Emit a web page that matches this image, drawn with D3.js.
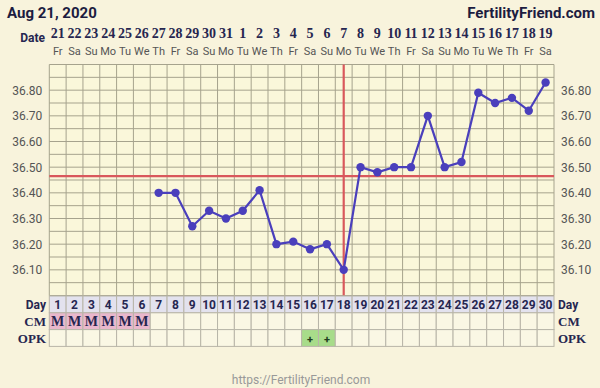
<!DOCTYPE html>
<html>
<head>
<meta charset="utf-8">
<script src="https://cdn.jsdelivr.net/npm/d3@7"></script>
<style>
  body { margin: 0; background: #f8f3dc; }
  svg { display: block; }
</style>
</head>
<body>
<div id="chart"></div>
<script>
// chart data
const cycleDays = d3.range(1, 31);
const dates = ["21","22","23","24","25","26","27","28","29","30","31","1","2","3","4",
  "5","6","7","8","9","10","11","12","13","14","15","16","17","18","19"];
const weekdays = ["Fr","Sa","Su","Mo","Tu","We","Th","Fr","Sa","Su","Mo","Tu","We","Th","Fr",
  "Sa","Su","Mo","Tu","We","Th","Fr","Sa","Su","Mo","Tu","We","Th","Fr","Sa"];
const temps = [null,null,null,null,null,null,36.40,36.40,36.27,36.33,36.30,36.33,36.41,36.20,36.21,
  36.18,36.20,36.10,36.50,36.48,36.50,36.50,36.70,36.50,36.52,36.79,36.75,36.77,36.72,36.83];
const cmValues = ["M","M","M","M","M","M","","","","","","","","","",
  "","","","","","","","","","","","","","",""];
const opkValues = ["","","","","","","","","","","","","","","",
  "+","+","","","","","","","","","","","","",""];
const tempTicks = [36.10, 36.20, 36.30, 36.40, 36.50, 36.60, 36.70, 36.80];
const coverline = 36.465;
const ovulationDay = 18;

const width = 600, height = 388;
const plot = { left: 49.3, right: 554, top: 64.5, bottom: 295.5 };

const svg = d3.select("#chart").append("svg")
    .attr("width", width)
    .attr("height", height);

svg.append("rect").attr("width", width).attr("height", height).attr("fill", "#f8f3dc");

// scales
const xScale = d3.scaleBand().domain(cycleDays).range([plot.left, plot.right]);
const yScale = d3.scaleLinear().domain([36.0, 36.9]).range([plot.bottom, plot.top]);
const cx = d => xScale(d) + xScale.bandwidth() / 2;

const sans = "Roboto, 'Noto Sans', sans-serif";
const serif = "'Liberation Serif', 'DejaVu Serif', serif";
const navy = "#262650";

// header
svg.append("text").attr("x", 7).attr("y", 18)
    .style("font", "bold 15px " + sans).attr("fill", "#1c1c40")
    .text("Aug 21, 2020");
svg.append("text").attr("x", 595).attr("y", 18).attr("text-anchor", "end")
    .style("font", "bold 15px " + sans).attr("fill", "#1c1c40")
    .text("FertilityFriend.com");

svg.append("text").attr("x", 45).attr("y", 42).attr("text-anchor", "end")
    .style("font", "bold 12px " + sans).attr("fill", navy).text("Date");

svg.selectAll(".date").data(cycleDays).enter().append("text")
    .attr("x", cx).attr("y", 38).attr("text-anchor", "middle")
    .style("font", "bold 14px " + serif).attr("fill", navy)
    .text((d, i) => dates[i]);

svg.selectAll(".wday").data(cycleDays).enter().append("text")
    .attr("x", cx).attr("y", 55).attr("text-anchor", "middle")
    .style("font", "11px " + sans).attr("fill", "#555")
    .text((d, i) => weekdays[i]);

// plot background + grid
svg.append("rect")
    .attr("x", plot.left).attr("y", plot.top)
    .attr("width", plot.right - plot.left).attr("height", plot.bottom - plot.top)
    .attr("fill", "#faf7da");

const gridColor = "#a6a38d";
const hLines = d3.range(0, 19).map(i => 36.0 + i * 0.05);
svg.append("g").selectAll("line").data(hLines).enter().append("line")
    .attr("x1", plot.left).attr("x2", plot.right)
    .attr("y1", d => yScale(d)).attr("y2", d => yScale(d))
    .attr("stroke", gridColor).attr("stroke-width", 1);

const tableTop = 296, rowH = 16.8;
const vBounds = cycleDays.map(d => xScale(d)).concat([plot.right]);
svg.append("g").selectAll("line").data(vBounds).enter().append("line")
    .attr("x1", d => d).attr("x2", d => d)
    .attr("y1", plot.top).attr("y2", plot.bottom)
    .attr("stroke", gridColor).attr("stroke-width", 1);

// y axis labels, both sides
const axisL = svg.append("g")
    .attr("transform", "translate(" + (plot.left - 4) + ",0)")
    .call(d3.axisLeft(yScale).tickValues(tempTicks).tickFormat(d3.format(".2f")).tickSize(0));
const axisR = svg.append("g")
    .attr("transform", "translate(" + (plot.right + 4) + ",0)")
    .call(d3.axisRight(yScale).tickValues(tempTicks).tickFormat(d3.format(".2f")).tickSize(0));
[axisL, axisR].forEach(a => {
  a.select(".domain").remove();
  a.selectAll("text").style("font", "12px " + sans).attr("fill", "#555");
});

// coverline and ovulation line
svg.append("line")
    .attr("x1", plot.left).attr("x2", plot.right)
    .attr("y1", yScale(coverline)).attr("y2", yScale(coverline))
    .attr("stroke", "#d9585c").attr("stroke-width", 2.2);
svg.append("line")
    .attr("x1", cx(ovulationDay)).attr("x2", cx(ovulationDay))
    .attr("y1", plot.top).attr("y2", plot.bottom)
    .attr("stroke", "#d9585c").attr("stroke-width", 2.2);

// temperature line
const pts = cycleDays.map((d, i) => ({ day: d, t: temps[i] })).filter(p => p.t !== null);
const line = d3.line().x(p => cx(p.day)).y(p => yScale(p.t));
svg.append("path").datum(pts)
    .attr("d", line).attr("fill", "none")
    .attr("stroke", "#4a3fbc").attr("stroke-width", 2.2);
svg.selectAll(".pt").data(pts).enter().append("circle")
    .attr("cx", p => cx(p.day)).attr("cy", p => yScale(p.t))
    .attr("r", 4.2).attr("fill", "#4a3fbc");

// table rows below chart
const rows = [
  { label: "Day", values: cycleDays.map(String), bg: () => "#e3e2ee", font: "bold 12px " + sans, lfont: "bold 12px " + sans },
  { label: "CM", values: cmValues, bg: v => v ? "#e9b7cc" : "#faf7e4", font: "bold 14px " + serif, lfont: "bold 13px " + serif },
  { label: "OPK", values: opkValues, bg: v => v ? "#a8dc8a" : "#faf7e4", font: "bold 11px " + sans, lfont: "bold 13px " + serif }
];

rows.forEach((r, ri) => {
  const y0 = tableTop + ri * rowH;
  const g = svg.append("g");
  g.selectAll("rect").data(cycleDays).enter().append("rect")
      .attr("x", d => xScale(d)).attr("y", y0)
      .attr("width", xScale.bandwidth()).attr("height", rowH)
      .attr("fill", (d, i) => r.bg(r.values[i]))
      .attr("stroke", "#b8b5a8").attr("stroke-width", 1);
  g.selectAll("text").data(cycleDays).enter().append("text")
      .attr("x", cx).attr("y", y0 + rowH / 2 + 4.5).attr("text-anchor", "middle")
      .style("font", r.font).attr("fill", ri === 2 ? "#1f3d1f" : navy)
      .text((d, i) => r.values[i]);
  g.append("text").attr("x", 46).attr("y", y0 + rowH / 2 + 4.5).attr("text-anchor", "end")
      .style("font", r.lfont).attr("fill", navy).text(r.label);
  g.append("text").attr("x", 558).attr("y", y0 + rowH / 2 + 4.5)
      .style("font", r.lfont).attr("fill", navy).text(r.label);
});

// footer
svg.append("text").attr("x", 301).attr("y", 384).attr("text-anchor", "middle")
    .style("font", "12px " + sans).attr("fill", "#999")
    .text("https://FertilityFriend.com");
</script>
</body>
</html>
